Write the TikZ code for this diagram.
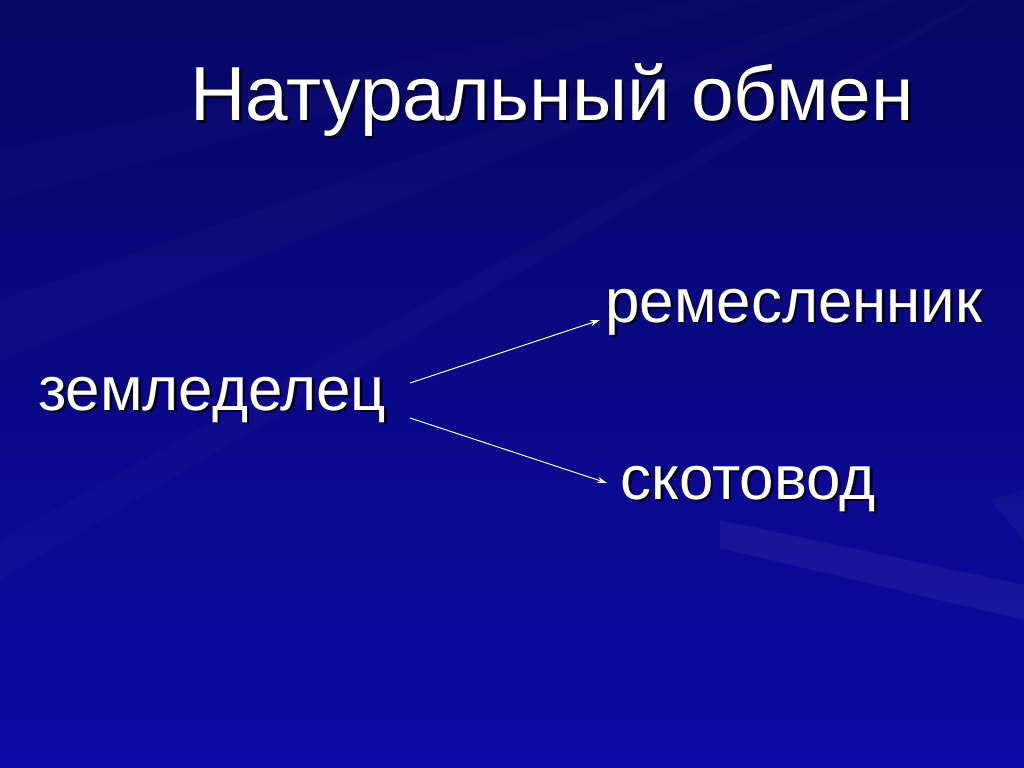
\documentclass[tikz,border=0pt]{standalone}
\usepackage{fontspec}
\setmainfont{Liberation Sans}
\usepackage{tikz}
\usetikzlibrary{arrows.meta, positioning}
\definecolor{slidetop}{RGB}{6,6,100}
\definecolor{slidemid}{RGB}{5,5,132}
\definecolor{slidebot}{RGB}{14,10,168}
\definecolor{shadowgray}{RGB}{5,5,35}
\newcommand{\shtext}[1]{\rlap{\kern2pt\raisebox{-2pt}{\color{shadowgray}#1}}#1}

\begin{document}
\begin{tikzpicture}[x=0.025cm, y=-0.025cm,
    word/.style={anchor=base west, inner sep=0pt, text=white, font=\fontsize{44}{50}\selectfont},
    heading/.style={anchor=base west, inner sep=0pt, text=white, font=\fontsize{54.5}{60}\selectfont},
    arrow/.style={-{Stealth[length=7pt, width=4.5pt]}, white, line width=0.7pt}
]

% Background
\shade[top color=slidetop, middle color=slidemid, bottom color=slidebot] (0,0) rectangle (1024,768);
\useasboundingbox (0,0) rectangle (1024,768);
\begin{scope}
  \clip (0,0) rectangle (1024,768);
  \fill[white, opacity=0.02] (1150,-100) -- (0,300) -- (0,360) -- cycle;
  \fill[white, opacity=0.015] (1150,-100) -- (0,150) -- (0,200) -- cycle;
  \fill[white, opacity=0.025] (1150,-100) -- (860,0) -- (800,0) -- cycle;
  \fill[white, opacity=0.02] (1150,-100) -- (0,540) -- (0,580) -- cycle;
  \fill[white, opacity=0.05] (720,520) -- (1024,585) -- (1024,620) -- (720,548) -- cycle;
  \fill[white, opacity=0.035] (1024,490) -- (990,500) -- (1024,540) -- cycle;
\end{scope}

% Title
\node[heading] (title) at (190,121) {\shtext{Натуральный обмен}};

% Words
\node[word] (zem) at (38,410) {\shtext{земледелец}};
\node[word] (rem) at (605,322) {\shtext{ремесленник}};
\node[word] (skot) at (620,499) {\shtext{скотовод}};

% Arrows
\draw[arrow] ([shift={(372,-27)}]zem.base west) -- ([shift={(-5,-2)}]rem.base west);
\draw[arrow] ([shift={(372,8)}]zem.base west) -- ([shift={(-13,-16)}]skot.base west);

\end{tikzpicture}
\end{document}
